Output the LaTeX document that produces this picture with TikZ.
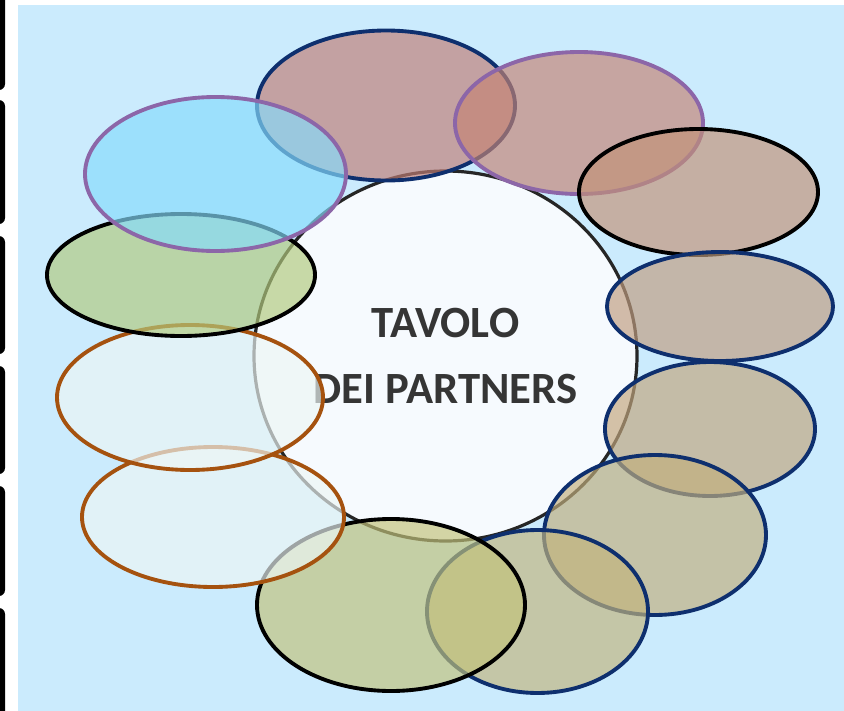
\documentclass[tikz,border=0pt]{standalone}
\usepackage{fontspec}
\setmainfont{Carlito}
\usetikzlibrary{shapes.geometric}
\definecolor{bgblue}{HTML}{CBEBFD}
\definecolor{navy}{HTML}{0E2F6E}
\definecolor{lilac}{HTML}{8C66A8}
\definecolor{rust}{HTML}{A5520F}
\definecolor{txt}{HTML}{353535}
\definecolor{hubfill}{HTML}{F6FAFE}
\definecolor{cA}{RGB}{192,125,118}
\definecolor{cB}{RGB}{197,132,116}
\definecolor{cC}{RGB}{195,146,120}
\definecolor{cD}{RGB}{192,157,128}
\definecolor{cE}{RGB}{194,166,125}
\definecolor{cF}{RGB}{194,175,125}
\definecolor{cG}{RGB}{194,180,125}
\definecolor{cH}{RGB}{194,194,122}
\definecolor{cI}{RGB}{237,246,245}
\definecolor{cK}{RGB}{177,202,125}
\definecolor{cL}{RGB}{134,220,252}
\tikzset{
  blob/.style 2 args={ellipse, inner sep=0pt, outer sep=0pt,
    minimum width=#1*1.5pt, minimum height=#2*1.5pt,
    line width=2.9pt, fill opacity=0.67},
  hubstyle/.style={ellipse, inner sep=0pt, outer sep=0pt,
    minimum width=383*0.75pt, minimum height=370*0.75pt,
    draw=black!85, line width=2.4pt, fill=hubfill,
    text=txt, align=center, font=\bfseries\fontsize{33.5pt}{49.5pt}\selectfont},
  tab/.style={fill=black, rounded corners=4.5pt}
}
\begin{document}
\begin{tikzpicture}[x=0.75pt,y=-0.75pt]
\useasboundingbox (0,0) rectangle (844,711);
\fill[white] (0,0) rectangle (844,711);
\fill[bgblue] (18,5) rectangle (844,711);
% left tabs
\fill[tab] (-10,-20) rectangle (5,90);
\fill[tab] (-10,100) rectangle (5,224);
\fill[tab] (-10,236) rectangle (5,354);
\fill[tab] (-10,366) rectangle (5,474);
\fill[tab] (-10,486) rectangle (5,596);
\fill[tab] (-10,608) rectangle (5,730);
% central circle with title
\node[hubstyle] (hub) at (445.5,356) {TAVOLO\\DEI PARTNERS};
% ring of ellipses, clockwise from top
\node[blob={129}{75}, draw=navy, fill=cA]  (e1)  at (386,105.5) {};
\node[blob={124}{71}, draw=lilac, fill=cB] (e2)  at (579,123) {};
\node[blob={119.5}{63}, draw=black, fill=cC] (e3) at (698.5,192) {};
\node[blob={113}{54.5}, draw=navy, fill=cD] (e4)  at (720,306.5) {};
\node[blob={105}{67}, draw=navy, fill=cE]  (e5)  at (710,429) {};
\node[blob={111}{80}, draw=navy, fill=cF]  (e6)  at (655,535) {};
\node[blob={110.5}{81.5}, draw=navy, fill=cG] (e7) at (537.5,611.5) {};
\node[blob={134}{86}, draw=black, fill=cH] (e8)  at (391,605) {};
\node[blob={131}{70}, draw=rust, fill=cI]  (e9)  at (213,517) {};
\node[blob={133}{72.5}, draw=rust, fill=cI] (e10) at (190,397.5) {};
\node[blob={134}{61}, draw=black, fill=cK] (e11) at (181,275) {};
\node[blob={130.5}{77}, draw=lilac, fill=cL] (e12) at (215.5,174) {};
\end{tikzpicture}
\end{document}
